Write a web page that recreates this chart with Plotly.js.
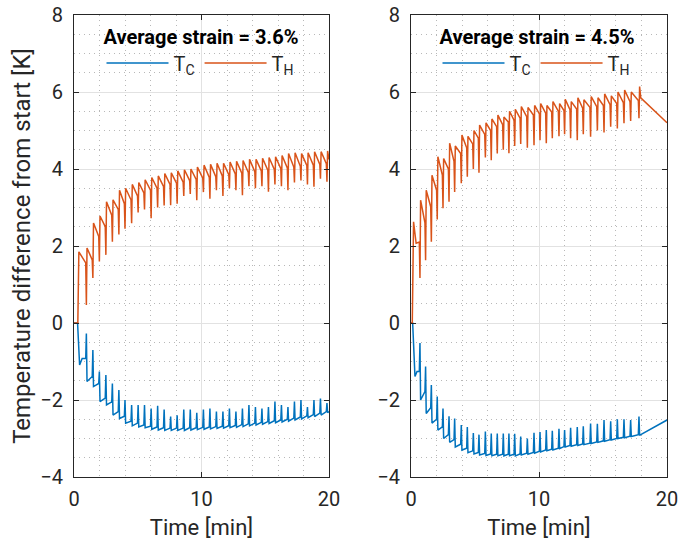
<!DOCTYPE html>
<html><head><meta charset="utf-8">
<script src="https://cdn.plot.ly/plotly-3.0.1.min.js"></script>
<style>html,body{margin:0;padding:0;background:#fff}</style>
</head><body><div id="chart" style="width:679px;height:548px"></div>
<script>
// ---------- data ----------
var seriesNames = ['T<sub>C</sub>', 'T<sub>H</sub>'];
var panelTitles = ['Average strain = 3.6%', 'Average strain = 4.5%'];
var xTickVals = [0, 10, 20];
var yTickVals = [-4, -2, 0, 2, 4, 6, 8];

// left panel (3.6 %): cycle times [min]
var leftCycleTime = [0.92,1.43,1.94,2.45,2.96,3.47,3.95,4.47,4.98,5.48,6.0,6.51,7.02,7.53,8.04,8.56,9.07,9.58,10.1,10.61,11.12,11.63,12.14,12.65,13.16,13.67,14.18,14.69,15.2,15.71,16.22,16.73,17.24,17.75,18.26,18.77,19.28,19.79];
var leftTcPre  = [-0.92,-1.39,-1.57,-1.95,-2.05,-2.3,-2.42,-2.55,-2.6,-2.65,-2.68,-2.7,-2.72,-2.73,-2.73,-2.73,-2.72,-2.72,-2.71,-2.7,-2.69,-2.68,-2.67,-2.66,-2.64,-2.62,-2.6,-2.58,-2.56,-2.54,-2.52,-2.5,-2.47,-2.44,-2.41,-2.38,-2.34,-2.3];
var leftTcPeak = [-0.27,-0.7,-1.26,-1.35,-1.57,-1.74,-2.0,-2.13,-2.13,-2.13,-2.22,-2.15,-2.25,-2.43,-2.4,-2.25,-2.25,-2.33,-2.25,-2.22,-2.3,-2.3,-2.22,-2.3,-2.22,-2.13,-2.18,-2.22,-2.18,-2.04,-2.13,-2.18,-2.04,-2.0,-2.18,-2.0,-1.96,-2.08];
var leftTcDip  = [-1.52,-1.65,-2.04,-2.13,-2.39,-2.48,-2.6,-2.67,-2.7,-2.72,-2.76,-2.78,-2.79,-2.79,-2.79,-2.79,-2.78,-2.77,-2.76,-2.75,-2.74,-2.73,-2.72,-2.71,-2.69,-2.67,-2.65,-2.63,-2.61,-2.59,-2.57,-2.55,-2.52,-2.49,-2.46,-2.43,-2.39,-2.33];
var leftThPre  = [1.56,1.64,2.25,2.5,2.8,2.95,3.1,3.2,3.3,3.38,3.45,3.5,3.55,3.6,3.63,3.66,3.7,3.73,3.76,3.78,3.8,3.82,3.85,3.87,3.89,3.91,3.93,3.95,3.97,3.99,4.01,4.03,4.05,4.07,4.09,4.1,4.12,4.14];
var leftThDip  = [0.47,1.17,1.6,1.77,2.11,2.3,2.45,2.59,2.87,2.95,2.72,3.0,3.05,3.06,3.1,3.3,3.35,3.19,3.4,3.23,3.45,3.3,3.5,3.45,3.32,3.55,3.5,3.55,3.41,3.6,3.55,3.45,3.65,3.7,3.6,3.54,3.75,3.67];
var leftThPeak = [1.95,2.6,2.78,3.15,3.2,3.45,3.5,3.6,3.65,3.72,3.78,3.82,3.88,3.9,3.95,3.98,4.0,4.05,4.1,4.12,4.15,4.15,4.18,4.2,4.22,4.25,4.25,4.28,4.3,4.32,4.35,4.4,4.42,4.4,4.42,4.45,4.45,4.47];
var leftTcHeadT = [0, 0.28, 0.44, 0.64];
var leftTcHeadY = [0, 0, -1.09, -0.92];
var leftThHeadT = [0, 0.3, 0.38];
var leftThHeadY = [0, 0, 1.85];
var leftTailT = [20];
var leftTcTailY = [-2.3];
var leftThTailY = [4.25];

// right panel (4.5 %)
var rightCycleTime = [0.65,1.09,1.54,2.0,2.45,2.92,3.36,3.88,4.35,4.82,5.26,5.76,6.22,6.69,7.16,7.6,8.05,8.52,9.04,9.56,10.03,10.52,10.99,11.51,11.95,12.42,12.94,13.41,13.98,14.51,15.03,15.55,16.07,16.59,17.11,17.76];
var rightTcPre  = [-1.26,-1.78,-2.2,-2.5,-2.7,-2.9,-3.03,-3.15,-3.25,-3.32,-3.36,-3.39,-3.4,-3.41,-3.41,-3.41,-3.41,-3.4,-3.38,-3.36,-3.33,-3.3,-3.28,-3.25,-3.21,-3.18,-3.16,-3.14,-3.12,-3.09,-3.06,-3.03,-3.0,-2.97,-2.94,-2.9];
var rightTcPeak = [-0.52,-1.13,-1.61,-1.91,-2.22,-2.42,-2.48,-2.65,-2.7,-2.86,-2.9,-2.82,-2.87,-2.87,-2.87,-2.87,-2.88,-2.95,-3.0,-2.85,-2.83,-2.78,-2.8,-2.75,-2.78,-2.72,-2.7,-2.68,-2.61,-2.62,-2.52,-2.55,-2.5,-2.5,-2.52,-2.43];
var rightTcDip  = [-2.0,-2.35,-2.6,-2.78,-3.0,-3.1,-3.22,-3.3,-3.37,-3.4,-3.43,-3.44,-3.45,-3.45,-3.45,-3.45,-3.45,-3.43,-3.41,-3.38,-3.35,-3.32,-3.3,-3.26,-3.22,-3.2,-3.18,-3.16,-3.13,-3.1,-3.07,-3.04,-3.0,-2.98,-2.95,-2.92];
var rightThPre  = [2.1,2.6,3.02,3.45,3.84,4.0,4.2,4.4,4.55,4.65,4.8,4.9,5.0,5.1,5.15,5.22,5.27,5.32,5.36,5.4,5.43,5.45,5.48,5.5,5.52,5.54,5.56,5.58,5.6,5.62,5.65,5.67,5.7,5.72,5.75,5.78];
var rightThDip  = [1.17,1.63,2.11,2.69,2.98,3.15,3.4,3.63,3.8,4.0,3.9,4.3,4.23,4.4,4.5,4.41,4.6,4.65,4.55,4.62,4.75,4.67,4.8,4.85,4.9,4.8,4.75,4.9,4.84,5.0,4.95,5.1,5.05,5.19,5.25,5.32];
var rightThPeak = [3.19,3.45,3.84,4.32,4.27,4.67,4.6,4.88,4.85,5.0,5.14,5.2,5.3,5.4,5.35,5.5,5.55,5.62,5.6,5.65,5.7,5.65,5.75,5.7,5.81,5.75,5.85,5.8,5.88,5.85,5.95,5.9,6.0,6.05,6.0,6.14];
var rightTcHeadT = [0, 0.13, 0.31, 0.47];
var rightTcHeadY = [0, 0, -1.39, -1.26];
var rightThHeadT = [0, 0.1, 0.2, 0.4];
var rightThHeadY = [0, 0, 2.63, 2.07];
var rightTailT = [17.95, 20];
var rightTcTailY = [-2.9, -2.52];
var rightThTailY = [5.85, 5.2];

var spikeStep = 0.05; // min between samples inside one cycle

// ---------- build line samples ----------
function buildSeries(headT, headY, cycT, pre, first, second, tailT, tailY) {
  var x = headT.slice(), y = headY.slice();
  for (var k = 0; k < cycT.length; k++) {
    x.push(cycT[k], cycT[k] + spikeStep, cycT[k] + 2 * spikeStep);
    y.push(pre[k], first[k], second[k]);
  }
  return {x: x.concat(tailT), y: y.concat(tailY)};
}
var lc = buildSeries(leftTcHeadT, leftTcHeadY, leftCycleTime, leftTcPre, leftTcPeak, leftTcDip, leftTailT, leftTcTailY);
var lh = buildSeries(leftThHeadT, leftThHeadY, leftCycleTime, leftThPre, leftThDip, leftThPeak, leftTailT, leftThTailY);
var rc = buildSeries(rightTcHeadT, rightTcHeadY, rightCycleTime, rightTcPre, rightTcPeak, rightTcDip, rightTailT, rightTcTailY);
var rh = buildSeries(rightThHeadT, rightThHeadY, rightCycleTime, rightThPre, rightThDip, rightThPeak, rightTailT, rightThTailY);

var BLUE = '#0072BD', ORANGE = '#D95319';
var FONT = 'Roboto, "Liberation Sans", Arial, sans-serif';
var INK = '#262626';
function tr(d, name, color, xa, ya, lg) {
  return {x: d.x, y: d.y, name: name, type: 'scatter', mode: 'lines',
    line: {color: color, width: 1.5}, xaxis: xa, yaxis: ya, legend: lg, hoverinfo: 'skip'};
}
var data = [
  tr(lc, seriesNames[0], BLUE, 'x', 'y', 'legend'),
  tr(lh, seriesNames[1], ORANGE, 'x', 'y', 'legend'),
  tr(rc, seriesNames[0], BLUE, 'x2', 'y2', 'legend2'),
  tr(rh, seriesNames[1], ORANGE, 'x2', 'y2', 'legend2')
];

var minorGrid = {showgrid: true, gridcolor: '#b8b8b8', griddash: '1px,4px', gridwidth: 1, ticks: ''};
function xaxis(dom, anchor) {
  var m = Object.assign({dtick: 2}, minorGrid);
  return {domain: dom, anchor: anchor, range: [0, 20], tickvals: xTickVals,
    ticks: 'inside', ticklen: 5, tickcolor: INK, showline: true, linecolor: INK, linewidth: 1,
    mirror: 'ticks', showgrid: true, gridcolor: '#e2e2e2', gridwidth: 1, zeroline: false,
    minor: m, ticklabelstandoff: 4,
    tickfont: {size: 20, color: INK},
    title: {text: 'Time [min]', font: {size: 22, color: INK}, standoff: 9}};
}
function yaxis(dom, anchor, withTitle) {
  var m = Object.assign({dtick: 0.5}, minorGrid);
  var a = {domain: dom, anchor: anchor, range: [-4, 8], tickvals: yTickVals,
    ticks: 'inside', ticklen: 5, tickcolor: INK, showline: true, linecolor: INK, linewidth: 1,
    mirror: 'ticks', showgrid: true, gridcolor: '#e2e2e2', gridwidth: 1, zeroline: false,
    minor: m, ticklabelstandoff: 6,
    tickfont: {size: 20, color: INK}};
  if (withTitle) a.title = {text: 'Temperature difference from start [K]', font: {size: 24, color: INK}, standoff: 2};
  return a;
}
function legend(xc, title) {
  return {x: xc, xanchor: 'center', y: 0.968, yanchor: 'top', orientation: 'h',
    bgcolor: 'rgba(0,0,0,0)', borderwidth: 0, itemwidth: 62, tracegroupgap: 0,
    font: {size: 20, color: INK, family: FONT},
    title: {text: '<b>' + title + '</b>', side: 'top center', font: {size: 20, color: '#000'}}};
}
var layout = {
  width: 679, height: 548, margin: {l: 0, r: 0, t: 0, b: 0},
  paper_bgcolor: '#fff', plot_bgcolor: '#fff',
  font: {family: FONT, color: INK},
  showlegend: true,
  xaxis: xaxis([74/679, 329/679], 'y'),
  yaxis: yaxis([71/548, 533/548], 'x', true),
  xaxis2: xaxis([411/679, 667/679], 'y2'),
  yaxis2: yaxis([71/548, 533/548], 'x2', false),
  legend: legend(201/679, panelTitles[0]),
  legend2: legend(537/679, panelTitles[1])
};
Plotly.newPlot('chart', data, layout, {displayModeBar: false, staticPlot: true});
</script></body></html>
